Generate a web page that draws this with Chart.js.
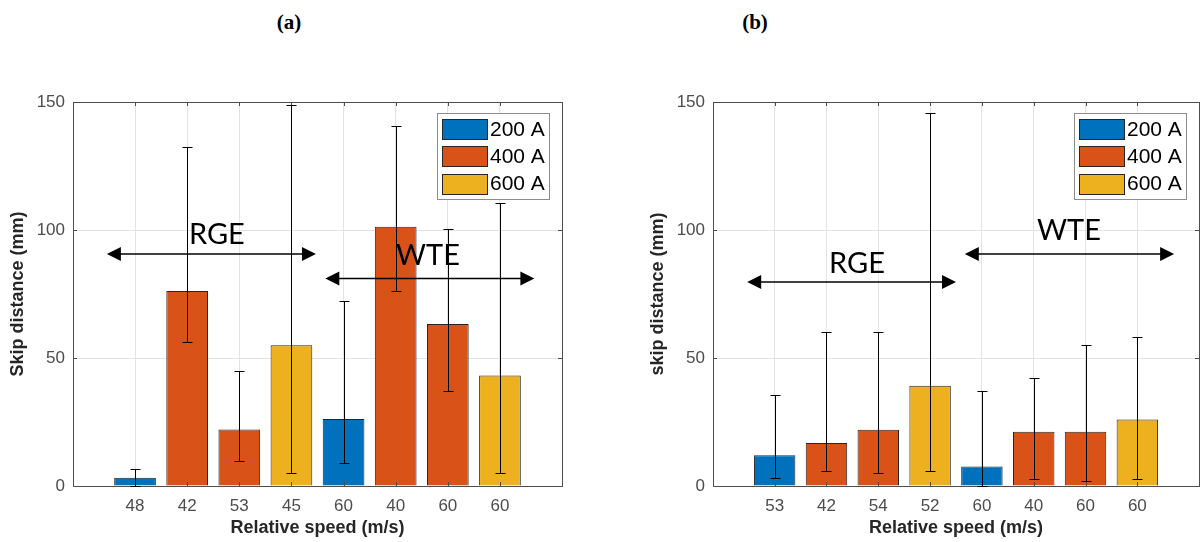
<!DOCTYPE html>
<html>
<head>
<meta charset="utf-8">
<script src="https://cdn.jsdelivr.net/npm/chart.js@4.4.0/dist/chart.umd.min.js"></script>
<style>
  body { margin:0; width:1201px; height:542px; background:#fff; position:relative; overflow:hidden; }
  .panel-title { position:absolute; top:8px; width:60px; margin-left:-30px; text-align:center;
    font:bold 21px "Liberation Serif","Times New Roman",serif; line-height:28px; color:#000; }
  #chartA { position:absolute; left:0; top:60px; }
  #chartB { position:absolute; left:640px; top:60px; }
</style>
</head>
<body>
<div class="panel-title" style="left:289px">(a)</div>
<div class="panel-title" style="left:755px">(b)</div>
<canvas id="chartA" width="600" height="482"></canvas>
<canvas id="chartB" width="561" height="482"></canvas>
<script>
// === data ===
const currents = ["200 A", "400 A", "600 A"];
const colors = ["#0072BD", "#D95319", "#EDB120"];
const yTicks = [0, 50, 100, 150];

const speedsA = ["48", "42", "53", "45", "60", "40", "60", "60"];
const currentA = ["200 A", "400 A", "400 A", "600 A", "200 A", "400 A", "400 A", "600 A"];
const skipA = [3.2, 76.2, 22.1, 55, 26.2, 101.3, 63.3, 43.2];
const errLowA = [0, 56.4, 9.9, 5, 8.9, 76.2, 37.1, 5];
const errHighA = [6.5, 132.3, 44.9, 148.8, 72.3, 140.7, 100.3, 110.4];

const speedsB = ["53", "42", "54", "52", "60", "40", "60", "60"];
const currentB = ["200 A", "400 A", "400 A", "600 A", "200 A", "400 A", "400 A", "600 A"];
const skipB = [12.0, 16.8, 22.0, 39.2, 7.6, 21.2, 21.2, 26.0];
const errLowB = [3.0, 6.0, 5.0, 6.0, 0, 2.9, 2.0, 2.9];
const errHighB = [35.4, 60.3, 60.3, 145.6, 37.0, 42.3, 55.1, 58.1];

// === 區段標註 (RGE / WTE)，x 以長條序號為單位 ===
const regionNames = ["RGE", "WTE"];
const regionSpanA = [[0.46, 4.47], [4.65, 8.66]];
const regionArrowYA = [90.6, 81.1];
const regionTextA = [[2.57, 98.2], [6.62, 90.1]];
const regionSpanB = [[0.47, 4.50], [4.67, 8.71]];
const regionArrowYB = [79.7, 90.6];
const regionTextB = [[2.59, 87.0], [6.68, 99.8]];

const tickFont = { family: "'Liberation Sans', Arial, sans-serif", size: 17 };
const titleFont = { family: "'Liberation Sans', Arial, sans-serif", size: 18, weight: "bold" };

function arrowHead(ctx, x, y, dir) {
  ctx.beginPath();
  ctx.moveTo(x, y);
  ctx.lineTo(x - dir * 14, y - 7);
  ctx.lineTo(x - dir * 14, y + 7);
  ctx.closePath();
  ctx.fill();
}

function extrasPlugin(p) {
  return {
    id: "extras",
    afterDatasetsDraw(chart) {
      const { ctx, chartArea: a, scales: { x, y } } = chart;
      ctx.save();

      // === 外框與內向刻度 ===
      ctx.strokeStyle = "#4d4d4d";
      ctx.lineWidth = 1;
      ctx.strokeRect(Math.round(a.left) + 0.5, Math.round(a.top) + 0.5,
        Math.round(a.right - a.left), Math.round(a.bottom - a.top));
      ctx.beginPath();
      p.labels.forEach((_, i) => {
        const px = Math.round(x.getPixelForValue(i + 1)) + 0.5;
        ctx.moveTo(px, a.top); ctx.lineTo(px, a.top + 4);
        ctx.moveTo(px, a.bottom); ctx.lineTo(px, a.bottom - 4);
      });
      yTicks.forEach(v => {
        const py = Math.round(y.getPixelForValue(v)) + 0.5;
        ctx.moveTo(a.left, py); ctx.lineTo(a.left + 4, py);
        ctx.moveTo(a.right, py); ctx.lineTo(a.right - 4, py);
      });
      ctx.stroke();

      // === 誤差線 ===
      ctx.strokeStyle = "#000";
      ctx.beginPath();
      p.low.forEach((lo, i) => {
        const px = Math.round(x.getPixelForValue(i + 1)) + 0.5;
        const top = Math.round(y.getPixelForValue(p.high[i])) + 0.5;
        const bot = Math.round(y.getPixelForValue(lo)) + 0.5;
        ctx.moveTo(px, top); ctx.lineTo(px, bot);
        ctx.moveTo(px - 5, top); ctx.lineTo(px + 5, top);
        ctx.moveTo(px - 5, bot); ctx.lineTo(px + 5, bot);
      });
      ctx.stroke();

      // === 雙向箭頭與文字 ===
      ctx.fillStyle = "#000";
      ctx.lineWidth = 1.5;
      regionNames.forEach((name, k) => {
        const x1 = x.getPixelForValue(p.span[k][0]);
        const x2 = x.getPixelForValue(p.span[k][1]);
        const py = y.getPixelForValue(p.arrowY[k]);
        ctx.beginPath();
        ctx.moveTo(x1 + 10, py); ctx.lineTo(x2 - 10, py);
        ctx.stroke();
        arrowHead(ctx, x1, py, -1);
        arrowHead(ctx, x2, py, 1);
        ctx.font = "29px Lato, 'Open Sans', sans-serif";
        ctx.textAlign = "center";
        ctx.textBaseline = "middle";
        ctx.fillText(name, x.getPixelForValue(p.text[k][0]), y.getPixelForValue(p.text[k][1]));
      });

      // === 圖例 ===
      const lw = 112, lh = 86;
      const lx = Math.round(a.right) - 13 - lw, ly = Math.round(a.top) + 11;
      ctx.fillStyle = "#fff";
      ctx.fillRect(lx, ly, lw, lh);
      ctx.strokeStyle = "#8c8c8c";
      ctx.lineWidth = 1;
      ctx.strokeRect(lx + 0.5, ly + 0.5, lw, lh);
      currents.forEach((c, k) => {
        const cy = ly + 16 + k * 27.3;
        ctx.fillStyle = colors[k];
        ctx.fillRect(lx + 5.5, Math.round(cy - 10) + 0.5, 45, 20);
        ctx.strokeStyle = "#262626";
        ctx.strokeRect(lx + 5.5, Math.round(cy - 10) + 0.5, 45, 20);
        ctx.fillStyle = "#000";
        ctx.font = "21px 'Liberation Sans', Arial, sans-serif";
        ctx.textAlign = "left";
        ctx.textBaseline = "middle";
        ctx.fillText(c, lx + 53, cy + 1);
      });
      ctx.restore();
    }
  };
}

function buildChart(id, p) {
  const datasets = currents.map((c, k) => ({
    label: c,
    data: p.values.map((v, i) => ({ x: i + 1, y: v })).filter((_, i) => p.current[i] === c),
    backgroundColor: colors[k],
    borderColor: "#262626",
    borderWidth: 1,
    grouped: false,
    barPercentage: 0.8,
    categoryPercentage: 1,
  }));

  return new Chart(document.getElementById(id), {
    type: "bar",
    data: { datasets },
    options: {
      responsive: false,
      animation: false,
      layout: { padding: { left: 0, top: 42, right: p.rightPad, bottom: 0 } },
      plugins: { legend: { display: false }, tooltip: { enabled: false } },
      scales: {
        x: {
          type: "linear",
          min: -0.19,
          max: 9.19,
          offset: false,
          grid: { offset: false, color: "#e3e3e3", drawTicks: false },
          border: { display: false },
          afterBuildTicks: s => { s.ticks = p.labels.map((_, i) => ({ value: i + 1 })); },
          afterFit: s => { s.height = 56; },
          ticks: {
            callback: (v, i) => p.labels[i],
            autoSkip: false, maxRotation: 0, padding: 10,
            font: tickFont, color: "#4d4d4d",
          },
          title: {
            display: true, text: "Relative speed (m/s)",
            font: titleFont, color: "#262626", padding: { top: 0, bottom: 3 },
          },
        },
        y: {
          min: 0,
          max: 150,
          grid: { color: "#e3e3e3", drawTicks: false },
          border: { display: false },
          afterBuildTicks: s => { s.ticks = yTicks.map(v => ({ value: v })); },
          afterFit: s => { s.width = 73; },
          ticks: { padding: 8, font: tickFont, color: "#4d4d4d" },
          title: {
            display: true, text: p.yTitle,
            font: titleFont, color: "#262626", padding: { top: 7, bottom: 0 },
          },
        },
      },
    },
    plugins: [extrasPlugin(p)],
  });
}

buildChart("chartA", {
  labels: speedsA, current: currentA, values: skipA, low: errLowA, high: errHighA,
  span: regionSpanA, arrowY: regionArrowYA, text: regionTextA,
  yTitle: "Skip distance (mm)", rightPad: 38,
});

buildChart("chartB", {
  labels: speedsB, current: currentB, values: skipB, low: errLowB, high: errHighB,
  span: regionSpanB, arrowY: regionArrowYB, text: regionTextB,
  yTitle: "skip distance (mm)", rightPad: 2,
});
</script>
</body>
</html>
